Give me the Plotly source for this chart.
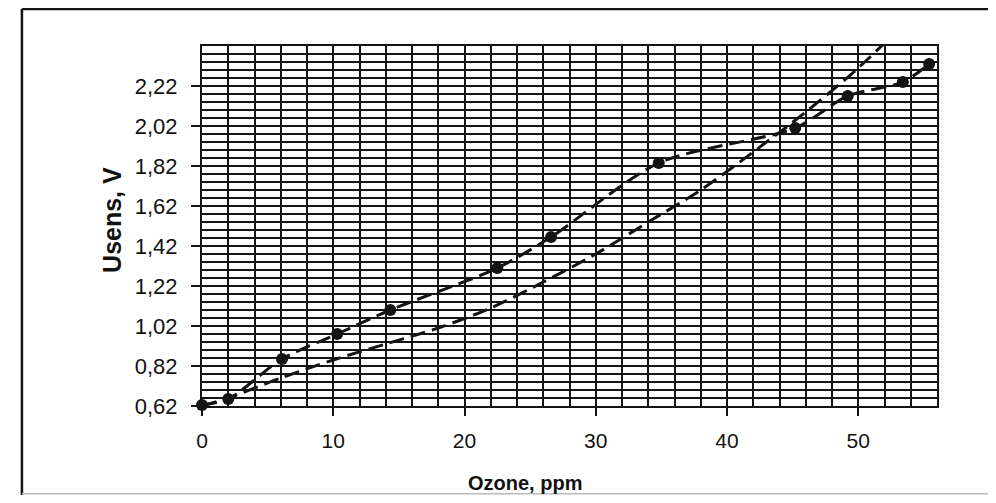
import plotly.graph_objects as go

# Series 1: measured points (markers + smoothed dashed line)
ozone_meas = [0, 2, 6.1, 10.3, 14.35, 22.5, 26.6, 34.8, 45.2, 49.2, 53.4, 55.4]
usens_meas = [0.625, 0.655, 0.855, 0.98, 1.10, 1.31, 1.465, 1.835, 2.01, 2.17, 2.24, 2.33]

# Series 2: dashed curve without markers
ozone_curve = [0, 2, 6, 10, 14, 18, 22, 26, 30, 34, 38, 42, 46, 50, 53]
usens_curve = [0.62, 0.66, 0.76, 0.85, 0.93, 1.01, 1.11, 1.24, 1.38, 1.54, 1.70, 1.89, 2.09, 2.31, 2.50]

x_ticks = [0, 10, 20, 30, 40, 50]
y_ticks = [0.62, 0.82, 1.02, 1.22, 1.42, 1.62, 1.82, 2.02, 2.22]

FONT = "Liberation Sans, Arial, sans-serif"
INK = "#141414"

fig = go.Figure()

fig.add_trace(go.Scatter(
    x=ozone_curve, y=usens_curve, mode="lines", xaxis="x", yaxis="y2",
    line=dict(color=INK, width=3, dash="15px,7px", shape="spline", smoothing=0.9),
    cliponaxis=True, showlegend=False))

fig.add_trace(go.Scatter(
    x=ozone_meas, y=usens_meas, mode="lines+markers", xaxis="x", yaxis="y2",
    line=dict(color=INK, width=3, dash="15px,7px", shape="spline", smoothing=0.8),
    marker=dict(color=INK, size=12, symbol="circle"),
    cliponaxis=False, showlegend=False))

fig.update_layout(
    width=980, height=487,
    paper_bgcolor="white", plot_bgcolor="white",
    margin=dict(l=194, r=51, t=38, b=89),
    separators=", ",
    font=dict(family=FONT, color="#111", size=21),
    xaxis=dict(
        range=[0, 56], tickvals=x_ticks, ticks="outside", ticklen=8, tickwidth=1.5,
        tickcolor=INK, ticklabelstandoff=7,
        showgrid=False, zeroline=False,
        showline=True, linecolor=INK, linewidth=2, mirror=True,
        minor=dict(dtick=2, tick0=0, showgrid=True, gridcolor=INK, gridwidth=2.2, ticks=""),
        tickfont=dict(family=FONT, size=21, color="#111"),
    ),
    # fine background grid (broken lines between the dark ones)
    yaxis=dict(
        range=[0.62, 2.42], dtick=0.02, tick0=0.62, showticklabels=False, ticks="",
        showgrid=True, gridcolor="#4a4a4a", gridwidth=1.3, griddash="dot",
        zeroline=False, showline=False,
    ),
    yaxis2=dict(
        overlaying="y", side="left", anchor="x",
        range=[0.62, 2.42], tickvals=y_ticks, tickformat=".2f",
        ticks="outside", ticklen=9, tickwidth=1.5, tickcolor=INK,
        ticklabelstandoff=9,
        showgrid=True, gridcolor=INK, gridwidth=2,
        minor=dict(dtick=0.04, tick0=0.62, showgrid=True, gridcolor=INK, gridwidth=2, ticks=""),
        zeroline=False, showline=True, linecolor=INK, linewidth=2, mirror=True,
        tickfont=dict(family=FONT, size=22, color="#111"),
    ),
    annotations=[
        dict(text="<b>Ozone, ppm</b>", xref="paper", yref="paper", x=0.439, y=-0.214,
             xanchor="center", yanchor="middle", showarrow=False,
             font=dict(family=FONT, size=20, color="#111")),
        dict(text="<b>Usens, V</b>", xref="paper", yref="paper", x=-0.1224, y=0.517,
             xanchor="center", yanchor="middle", textangle=-90, showarrow=False,
             font=dict(family=FONT, size=25, color="#111")),
    ],
    shapes=[
        dict(type="line", xref="paper", yref="paper", x0=-0.245, x1=-0.245, y0=-0.26, y1=1.103,
             line=dict(color=INK, width=2.5)),
        dict(type="line", xref="paper", yref="paper", x0=-0.245, x1=1.1, y0=1.103, y1=1.103,
             line=dict(color=INK, width=2.5)),
        dict(type="line", xref="paper", yref="paper", x0=-0.245, x1=1.1, y0=-0.244, y1=-0.244,
             line=dict(color="#bbbbbb", width=1.5)),
    ],
)

fig.write_html("out.html")
